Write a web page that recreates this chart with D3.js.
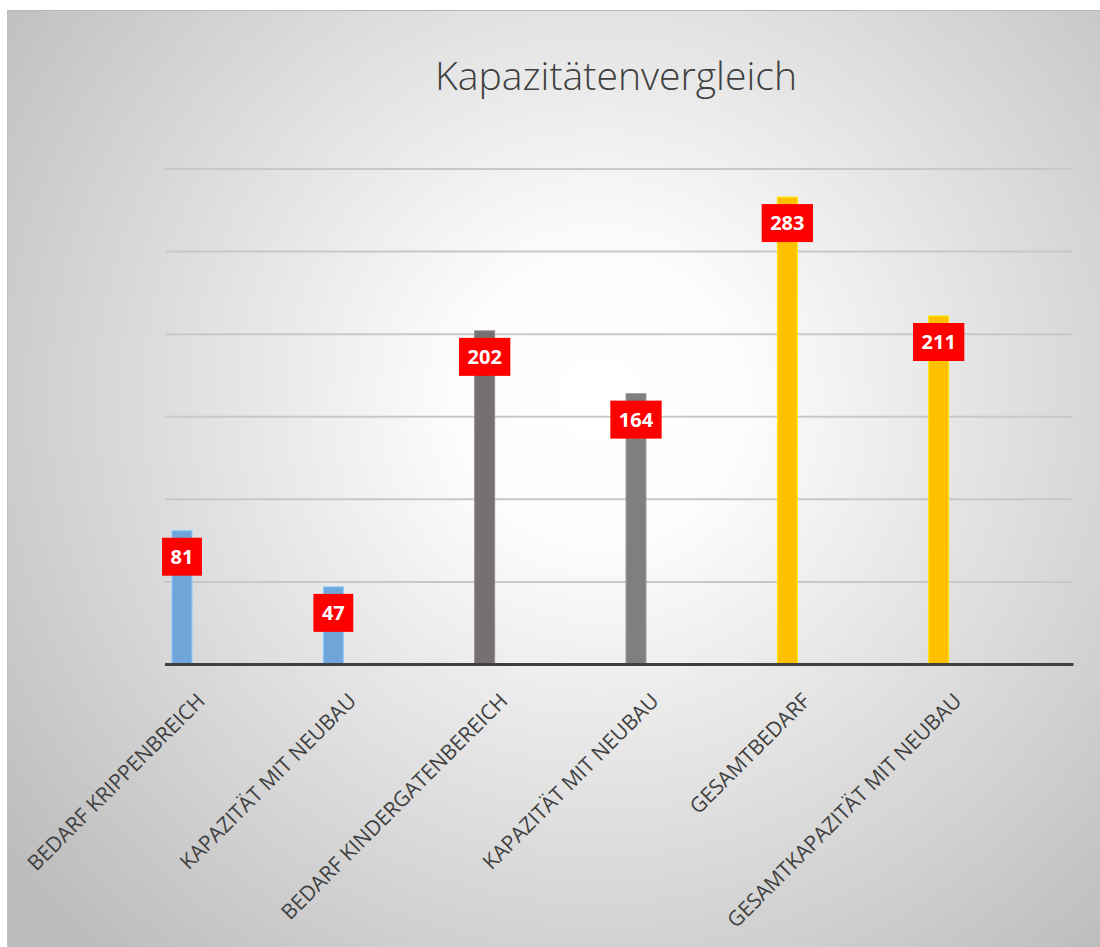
<!DOCTYPE html>
<html>
<head>
<meta charset="utf-8">
<script src="https://cdn.jsdelivr.net/npm/d3@7"></script>
<style>
  html, body { margin: 0; padding: 0; background: #fff; }
  svg { display: block; }
</style>
</head>
<body>
<div id="chart"></div>
<script>
// Daten
const categories = [
    'BEDARF KRIPPENBREICH',
    'KAPAZITÄT MIT NEUBAU',
    'BEDARF KINDERGATENBEREICH',
    'KAPAZITÄT MIT NEUBAU ',
    'GESAMTBEDARF',
    'GESAMTKAPAZITÄT MIT NEUBAU'
];
const values = [81, 47, 202, 164, 283, 211];
const barColors = ['#6fa5d9', '#6fa5d9', '#767171', '#7f7f7f', '#ffc000', '#ffc000'];
const yTicks = [0, 50, 100, 150, 200, 250, 300];

const W = 1100, H = 947;
const margin = { left: 165, right: 27, top: 169, bottom: 282 };

const svg = d3.select('#chart')
    .append('svg')
    .attr('width', W)
    .attr('height', H);

// Hintergrund mit radialem Verlauf
const defs = svg.append('defs');
const grad = defs.append('radialGradient')
    .attr('id', 'bg-grad')
    .attr('gradientUnits', 'userSpaceOnUse')
    .attr('cx', 600).attr('cy', 400).attr('r', 740);
grad.append('stop').attr('offset', '0%').attr('stop-color', '#ffffff');
grad.append('stop').attr('offset', '20%').attr('stop-color', '#fcfcfc');
grad.append('stop').attr('offset', '100%').attr('stop-color', '#bdbdbd');

svg.append('rect')
    .attr('x', 7).attr('y', 10)
    .attr('width', W - 7).attr('height', H - 10)
    .attr('fill', 'url(#bg-grad)');
svg.append('line')
    .attr('x1', 7).attr('x2', W).attr('y1', 10.5).attr('y2', 10.5)
    .attr('stroke', '#b8b8b8').attr('stroke-width', 1);
svg.append('line')
    .attr('x1', 7.5).attr('x2', 7.5).attr('y1', 10).attr('y2', H)
    .attr('stroke', '#c0c0c0').attr('stroke-width', 1);

// Titel
svg.append('text')
    .attr('x', 616).attr('y', 90)
    .attr('text-anchor', 'middle')
    .attr('font-family', '"Open Sans", "Noto Sans", sans-serif')
    .attr('font-weight', 300)
    .attr('font-size', 38)
    .attr('textLength', 362)
    .attr('lengthAdjust', 'spacingAndGlyphs')
    .attr('fill', '#404040')
    .text('Kapazitätenvergleich');

// Skalen
const x = d3.scaleBand()
    .domain(categories)
    .range([margin.left, W - margin.right])
    .padding(0);

const y = d3.scaleLinear()
    .domain([0, 300])
    .range([H - margin.bottom - 0.5, margin.top]);

const barW = 20;
const barOffset = 7;

// Gitterlinien
svg.append('g')
    .selectAll('line')
    .data(yTicks.slice(1))
    .join('line')
    .attr('x1', margin.left).attr('x2', W - margin.right)
    .attr('y1', d => y(d)).attr('y2', d => y(d))
    .attr('stroke', '#c8c8c8')
    .attr('stroke-width', 2);

// Balken
svg.append('g')
    .selectAll('rect')
    .data(values)
    .join('rect')
    .attr('x', (d, i) => x(categories[i]) + barOffset)
    .attr('y', d => y(d))
    .attr('width', barW)
    .attr('height', d => y(0) - y(d))
    .attr('fill', (d, i) => barColors[i])
    .attr('stroke', (d, i) => d3.color(barColors[i]).brighter(0.6))
    .attr('stroke-width', 1);

// Grundlinie
svg.append('line')
    .attr('x1', margin.left).attr('x2', W - margin.right + 0.5)
    .attr('y1', y(0)).attr('y2', y(0))
    .attr('stroke', '#404040')
    .attr('stroke-width', 3);

// Datenbeschriftungen
const labels = svg.append('g')
    .selectAll('g')
    .data(values)
    .join('g')
    .attr('transform', (d, i) => `translate(${x(categories[i]) + barOffset + barW / 2},${y(d) + 7})`);

labels.append('text')
    .attr('text-anchor', 'middle')
    .attr('y', 26)
    .attr('font-family', '"Open Sans", "Noto Sans", sans-serif')
    .attr('font-weight', 'bold')
    .attr('font-size', 20)
    .attr('fill', '#fff')
    .text(d => d)
    .each(function() {
        const w = this.getComputedTextLength() + 17;
        d3.select(this.parentNode).insert('rect', 'text')
            .attr('x', -w / 2).attr('y', 0)
            .attr('width', w).attr('height', 38)
            .attr('fill', '#ff0000');
    });

// Kategorienbeschriftungen
svg.append('g')
    .selectAll('text')
    .data(categories)
    .join('text')
    .attr('transform', d => `translate(${x(d) + barOffset + barW / 2 + 19},697) rotate(-45)`)
    .attr('text-anchor', 'end')
    .attr('dy', '0.35em')
    .attr('font-family', '"Open Sans", "Noto Sans", sans-serif')
    .attr('font-size', 21)
    .attr('fill', '#404040')
    .text(d => d.trim());
</script>
</body>
</html>
